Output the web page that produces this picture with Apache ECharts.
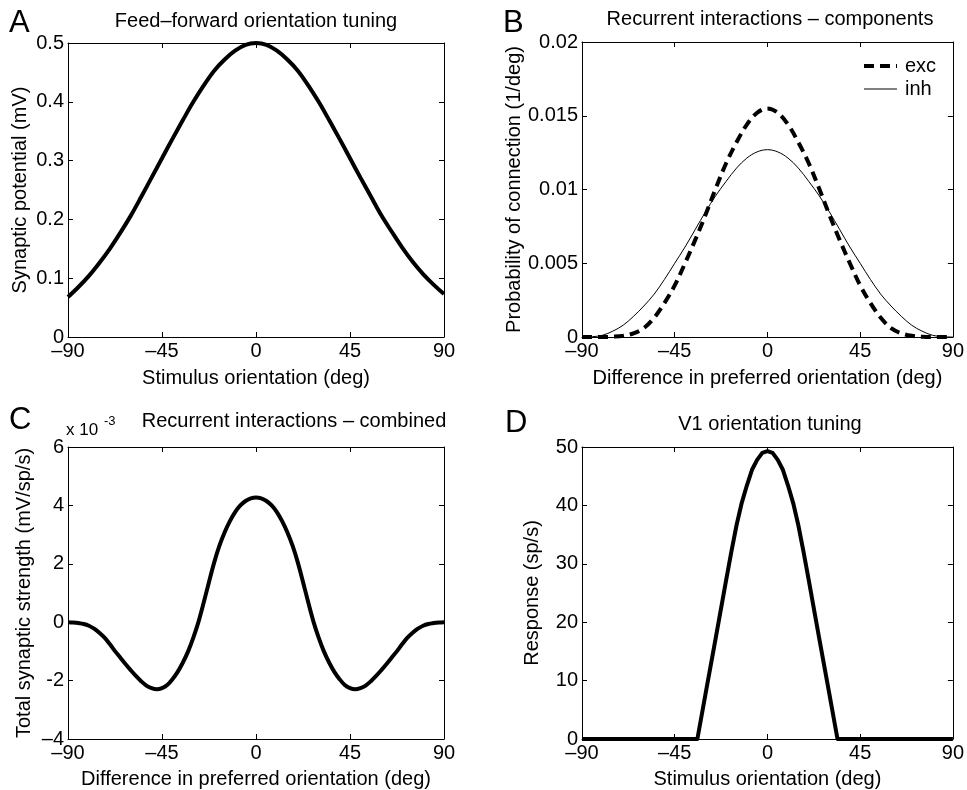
<!DOCTYPE html>
<html>
<head>
<meta charset="utf-8">
<script src="https://cdn.jsdelivr.net/npm/echarts@6/dist/echarts.min.js"></script>
<style>
  html, body { margin: 0; padding: 0; background: #ffffff; }
  #chart { width: 967px; height: 790px; }
</style>
</head>
<body>
<div id="chart"></div>
<script>
const FONT = "'Liberation Sans', Arial, Helvetica, sans-serif";

// Orientation samples (deg) used by panels A and B
const orientation = [-90,-85,-80,-75,-70,-65,-60,-55,-50,-45,-40,-35,-30,-25,-20,-15,-10,-5,0,5,10,15,20,25,30,35,40,45,50,55,60,65,70,75,80,85,90];

// A: feed-forward synaptic potential (mV)
const feedForward = [0.068,0.085,0.104,0.126,0.150,0.177,0.206,0.238,0.271,0.304,0.337,0.369,0.400,0.428,0.453,0.472,0.487,0.497,0.500,0.497,0.487,0.472,0.453,0.428,0.400,0.369,0.337,0.304,0.271,0.239,0.207,0.179,0.152,0.128,0.107,0.089,0.073];

// B: probability of connection (1/deg)
const excitatory = [0,0,0,0.00002,0.00008,0.00025,0.0006,0.0013,0.0023,0.0035,0.0050,0.0066,0.0083,0.0101,0.0118,0.0132,0.0144,0.0152,0.0155,0.0152,0.0144,0.0132,0.0118,0.0101,0.0083,0.0066,0.0050,0.0035,0.0023,0.0013,0.0006,0.00025,0.00008,0.00002,0,0,0];
const inhibitory = [0,0.00002,0.00012,0.0004,0.0008,0.0014,0.0021,0.0029,0.0039,0.0050,0.0061,0.0073,0.0085,0.0096,0.01056,0.01145,0.01213,0.01255,0.0127,0.01255,0.01213,0.01145,0.01056,0.0096,0.0085,0.0073,0.0061,0.0050,0.0039,0.0029,0.0021,0.0014,0.0008,0.0004,0.00012,0.00002,0];

// C: combined synaptic strength (x 10^-3 mV/sp/s), sampled every 2.5 deg
const combinedOrientation = [-90,-87.5,-85,-82.5,-80,-77.5,-75,-72.5,-70,-67.5,-65,-62.5,-60,-57.5,-55,-52.5,-50,-47.5,-45,-42.5,-40,-37.5,-35,-32.5,-30,-27.5,-25,-22.5,-20,-17.5,-15,-12.5,-10,-7.5,-5,-2.5,0,2.5,5,7.5,10,12.5,15,17.5,20,22.5,25,27.5,30,32.5,35,37.5,40,42.5,45,47.5,50,52.5,55,57.5,60,62.5,65,67.5,70,72.5,75,77.5,80,82.5,85,87.5,90];
const combined = [0,-0.01,-0.03,-0.06,-0.12,-0.22,-0.36,-0.53,-0.75,-0.99,-1.21,-1.43,-1.64,-1.84,-2.02,-2.17,-2.26,-2.30,-2.26,-2.15,-1.95,-1.70,-1.38,-1.00,-0.53,0.02,0.68,1.38,2.05,2.62,3.08,3.46,3.77,4.00,4.15,4.24,4.27,4.24,4.15,4.00,3.77,3.46,3.08,2.62,2.05,1.38,0.68,0.02,-0.53,-1.00,-1.38,-1.70,-1.95,-2.15,-2.26,-2.30,-2.26,-2.17,-2.02,-1.84,-1.64,-1.43,-1.21,-0.99,-0.75,-0.53,-0.36,-0.22,-0.12,-0.06,-0.03,-0.01,0];

// D: V1 response (sp/s), rectified around the preferred orientation
const responseOrientation = [-90,-34,-30,-25,-20,-17.5,-15,-12.5,-10,-7.5,-5,-2.5,0,2.5,5,7.5,10,12.5,15,17.5,20,25,30,34,90];
const response = [0,0,7.8,17.5,27.3,32.1,36.6,40.4,43.4,46.1,47.8,49.0,49.3,49.0,47.8,46.1,43.4,40.4,36.6,32.1,27.3,17.5,7.8,0,0];

// Axis ranges: [min, max, step]
const xRange = [-90, 90, 45];
const yRangeA = [0, 0.5, 0.1];
const yRangeB = [0, 0.02, 0.005];
const yRangeC = [-4, 6, 2];
const yRangeD = [0, 50, 10];

const pairs = (xs, ys) => xs.map((x, i) => [x, ys[i]]);
const dashNum = v => (v < 0 ? '\u2013' + Math.abs(v) : String(v));

const panels = [
  { grid: { left: 68, top: 43, width: 376, height: 294 }, y: yRangeA,
    xName: 'Stimulus orientation (deg)', yName: 'Synaptic potential (mV)', yGap: 38, xGap: 31,
    yFmt: v => String(v) },
  { grid: { left: 582, top: 42, width: 377, height: 295 }, y: yRangeB,
    xName: 'Difference in preferred orientation (deg)', yName: 'Probability of connection (1/deg)', yGap: 58, xGap: 31,
    yFmt: v => String(v) },
  { grid: { left: 68, top: 447, width: 376, height: 293 }, y: yRangeC,
    xName: 'Difference in preferred orientation (deg)', yName: 'Total synaptic strength (mV/sp/s)', yGap: 34, xGap: 30,
    yFmt: v => (v === -4 ? '\u20134' : String(v)) },
  { grid: { left: 582, top: 447, width: 376, height: 293 }, y: yRangeD,
    xName: 'Stimulus orientation (deg)', yName: 'Response (sp/s)', yGap: 40, xGap: 30,
    yFmt: v => String(v) }
];

const frameLine = { show: true, onZero: false, lineStyle: { color: '#000', width: 1 } };
const innerTick = { show: true, inside: true, length: 5, lineStyle: { color: '#000', width: 1 } };
const labelText = { color: '#000', fontSize: 20, fontFamily: FONT };

const grid = [], xAxis = [], yAxis = [];
panels.forEach((p, g) => {
  grid.push(Object.assign({ containLabel: false }, p.grid));
  const xBase = { type: 'value', gridIndex: g, min: xRange[0], max: xRange[1], interval: xRange[2],
    axisLine: frameLine, axisTick: innerTick, splitLine: { show: false } };
  xAxis.push(Object.assign({}, xBase, {
    position: 'bottom', name: p.xName, nameLocation: 'middle', nameGap: p.xGap,
    nameTextStyle: labelText,
    axisLabel: Object.assign({ margin: 4, formatter: dashNum }, labelText)
  }));
  xAxis.push(Object.assign({}, xBase, { position: 'top', axisLabel: { show: false } }));
  const yBase = { type: 'value', gridIndex: g, min: p.y[0], max: p.y[1], interval: p.y[2],
    axisLine: frameLine, axisTick: innerTick, splitLine: { show: false } };
  yAxis.push(Object.assign({}, yBase, {
    position: 'left', name: p.yName, nameLocation: 'middle', nameGap: p.yGap,
    nameTextStyle: labelText,
    axisLabel: Object.assign({ margin: 4, formatter: p.yFmt }, labelText)
  }));
  yAxis.push(Object.assign({}, yBase, { position: 'right', axisLabel: { show: false } }));
});

const SMOOTH = 0.35;
const thick = { color: '#000', width: 4 };
const series = [
  { name: 'feed-forward', type: 'line', xAxisIndex: 0, yAxisIndex: 0, data: pairs(orientation, feedForward),
    smooth: SMOOTH, symbol: 'none', color: '#000', lineStyle: thick },
  { name: 'exc', type: 'line', xAxisIndex: 2, yAxisIndex: 2, data: pairs(orientation, excitatory),
    smooth: SMOOTH, symbol: 'none', color: '#000', lineStyle: { color: '#000', width: 4, type: [10, 6], cap: 'butt' } },
  { name: 'inh', type: 'line', xAxisIndex: 2, yAxisIndex: 2, data: pairs(orientation, inhibitory),
    smooth: SMOOTH, symbol: 'none', color: '#000', lineStyle: { color: '#000', width: 1 } },
  { name: 'combined', type: 'line', xAxisIndex: 4, yAxisIndex: 4, data: pairs(combinedOrientation, combined),
    smooth: SMOOTH, symbol: 'none', color: '#000', lineStyle: thick },
  { name: 'response', type: 'line', xAxisIndex: 6, yAxisIndex: 6, data: pairs(responseOrientation, response),
    smooth: false, symbol: 'none', color: '#000', lineStyle: Object.assign({ join: 'round' }, thick) }
];

const txt = (text, x, y, size, align) => ({
  type: 'text', x: x, y: y, silent: true,
  style: { text: text, fill: '#000', fontSize: size, fontFamily: FONT, align: align || 'left', verticalAlign: 'top' }
});

const graphic = [
  txt('A', 9, 8, 31), txt('B', 503, 8, 31), txt('C', 9, 405, 31), txt('D', 505, 408, 31),
  txt('Feed\u2013forward orientation tuning', 256, 11, 20, 'center'),
  txt('Recurrent interactions \u2013 components', 770, 9, 20, 'center'),
  txt('Recurrent interactions \u2013 combined', 294, 411, 20, 'center'),
  txt('V1 orientation tuning', 770, 414, 20, 'center'),
  txt('x 10', 66, 422, 17),
  txt('-3', 104, 415, 13)
];

const chart = echarts.init(document.getElementById('chart'), null, { renderer: 'canvas' });
chart.setOption({
  animation: false,
  backgroundColor: '#ffffff',
  textStyle: { fontFamily: FONT, color: '#000' },
  grid, xAxis, yAxis, series, graphic,
  legend: {
    data: ['exc', 'inh'], orient: 'vertical', left: 857, top: 51,
    itemWidth: 33, itemHeight: 20, itemGap: 3,
    itemStyle: { opacity: 0 },
    lineStyle: { width: 'inherit' },
    textStyle: { fontSize: 20, fontFamily: FONT, color: '#000', padding: [0, 0, 0, 3] }
  }
});
</script>
</body>
</html>
